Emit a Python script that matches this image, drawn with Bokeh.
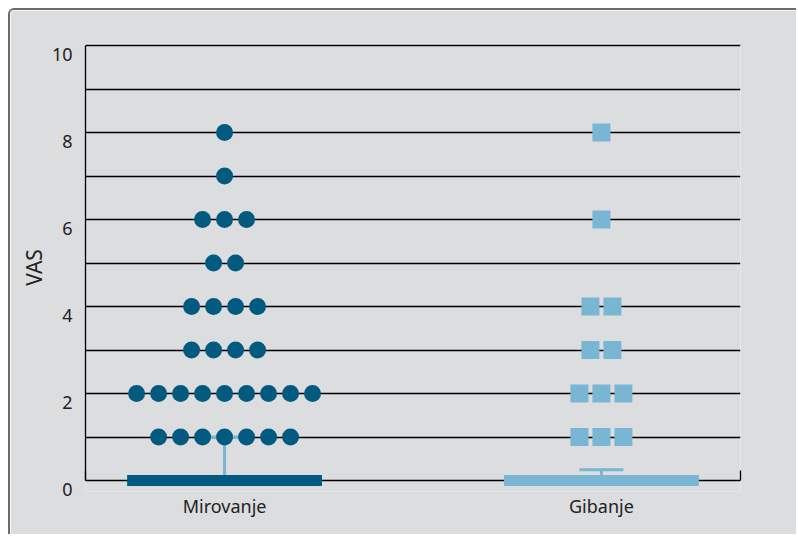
from bokeh.plotting import figure
from bokeh.models import Range1d, FixedTicker, Title
from bokeh.embed import file_html
from bokeh.resources import INLINE

# ---- data ----
categories = ["Mirovanje", "Gibanje"]
mir_values = [1, 2, 3, 4, 5, 6, 7, 8]
mir_counts = [7, 9, 4, 4, 2, 3, 1, 1]
gib_values = [1, 2, 3, 4, 6, 8]
gib_counts = [3, 3, 2, 2, 1, 1]
medians = [0, 0]
upper_err = [1, 0.25]
y_ticks = [0, 2, 4, 6, 8, 10]
y_label = "VAS"

BG = "#dcdddf"
DARK = "#035a80"
LIGHT = "#79b6d3"
FONT = "Noto Sans"
TXT = "#222222"
LABEL_SHIFT = 0.2   # tick labels sit slightly below their gridline

X0, X1 = -0.369, 1.369
p = figure(width=788, height=526, x_range=Range1d(X0, X1), y_range=Range1d(-0.25, 10.046),
           output_backend="svg", toolbar_location=None,
           min_border_left=75, min_border_right=58, min_border_top=33, min_border_bottom=45,
           background_fill_color=BG, border_fill_color=BG)
p.styles = {"border-top": "2px solid #6b6b6b", "border-left": "2px solid #6b6b6b",
            "border-top-left-radius": "6px", "margin-left": "8px", "margin-top": "8px"}
p.outline_line_color = None

p.xgrid.visible = False
p.ygrid.ticker = FixedTicker(ticks=list(range(0, 11)))
p.ygrid.grid_line_color = "#000000"
p.ygrid.grid_line_width = 1.3

ya = p.yaxis[0]
label_pos = [t - LABEL_SHIFT for t in y_ticks]
ya.ticker = FixedTicker(ticks=label_pos)
ya.major_label_overrides = {lp: str(t) for lp, t in zip(label_pos, y_ticks)}
ya.bounds = (0, 10)
ya.major_tick_line_color = None
ya.major_tick_out = 0
ya.major_tick_in = 0
ya.minor_tick_line_color = None
ya.axis_line_color = "#000000"
ya.axis_line_width = 1.3
ya.major_label_text_font = FONT
ya.major_label_text_font_size = "18px"
ya.major_label_text_color = TXT
ya.major_label_standoff = 13

xa = p.xaxis[0]
xa.ticker = FixedTicker(ticks=[0, 1], minor_ticks=[X0, X1])
xa.major_label_overrides = {i: c for i, c in enumerate(categories)}
xa.axis_line_color = None
xa.major_tick_line_color = None
xa.major_tick_out = 0
xa.major_tick_in = 0
xa.minor_tick_line_color = "#000000"
xa.minor_tick_line_width = 1.3
xa.minor_tick_in = 21
xa.minor_tick_out = -11
xa.major_label_text_font = FONT
xa.major_label_text_font_size = "18px"
xa.major_label_text_color = TXT
xa.major_label_standoff = 2

# y axis title (as a side title so it can sit slightly below centre)
p.add_layout(Title(text=y_label, align="center", offset=-21, standoff=2,
                   text_font=FONT, text_font_size="21px", text_font_style="normal",
                   text_color=TXT), "left")

DX = 22 / 377.0

# error bars (behind)
for i, (m, u) in enumerate(zip(medians, upper_err)):
    p.segment(x0=[i], y0=[m], x1=[i], y1=[u], line_color=LIGHT, line_width=3)
    p.rect(x=[i], y=[u], width=44, height=3, width_units="screen", height_units="screen",
           fill_color=LIGHT, line_color=None)

# median bars
p.rect(x=[0, 1], y=medians, width=0.517, height=11, height_units="screen",
       fill_color=[DARK, LIGHT], line_color=None)


def spread(center, values, counts):
    xs, ys = [], []
    for v, n in zip(values, counts):
        for j in range(n):
            xs.append(center + (j - (n - 1) / 2.0) * DX)
            ys.append(v)
    return xs, ys


mx, my = spread(0, mir_values, mir_counts)
gx, gy = spread(1, gib_values, gib_counts)
p.scatter(mx, my, marker="circle", size=17, fill_color=DARK, line_color=None)
p.scatter(gx, gy, marker="square", size=18, fill_color=LIGHT, line_color=None)

open("out.html", "w").write(file_html(p, INLINE))
